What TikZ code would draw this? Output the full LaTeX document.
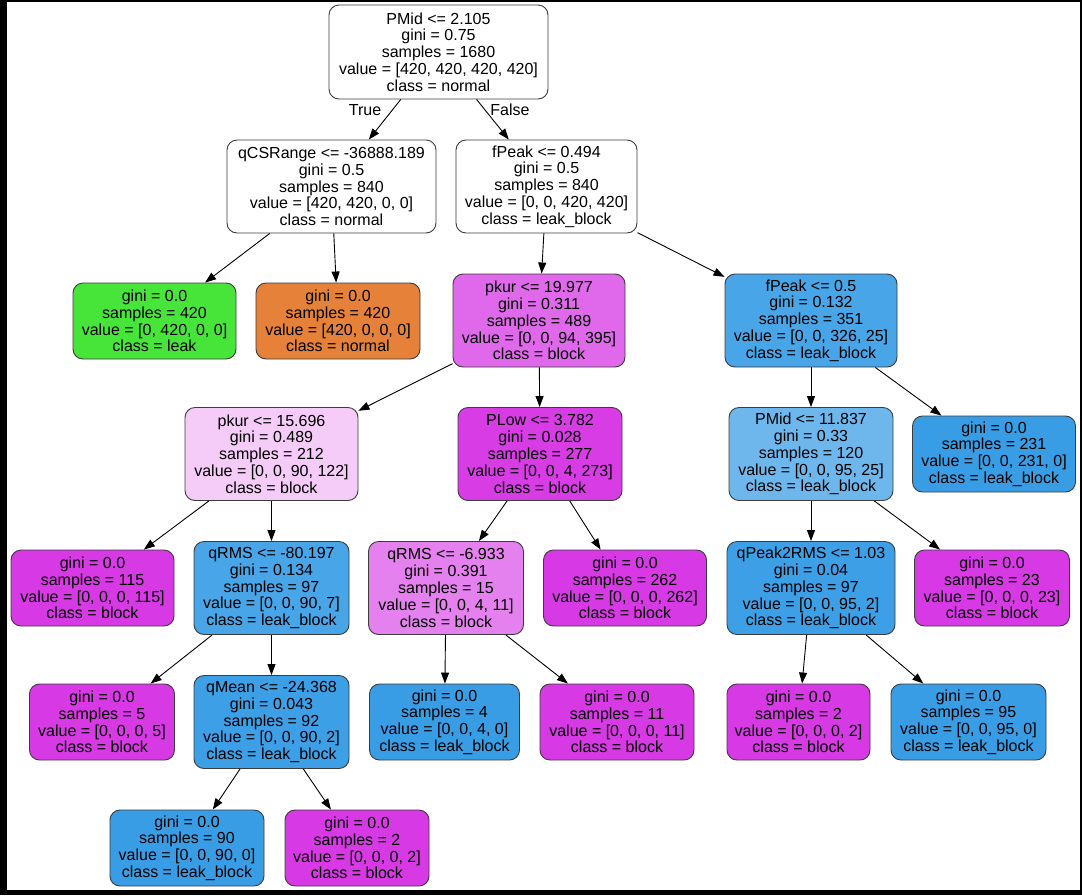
\documentclass[tikz,border=0pt]{standalone}
\usepackage{fontspec}
\setmainfont{Liberation Sans}
\usetikzlibrary{arrows.meta}
\definecolor{cnormal}{RGB}{229,129,57}
\definecolor{cleak}{RGB}{71,229,57}
\definecolor{cleakblock}{RGB}{57,157,229}
\definecolor{cblock}{RGB}{215,57,229}
\definecolor{cfpfive}{RGB}{72,165,231}
\definecolor{cpkurA}{RGB}{224,104,235}
\definecolor{cpkurB}{RGB}{245,203,248}
\definecolor{cplow}{RGB}{216,60,229}
\definecolor{cpmid}{RGB}{109,183,236}
\definecolor{cqrmsA}{RGB}{72,165,231}
\definecolor{cqrmsB}{RGB}{229,129,238}
\definecolor{cqpeak}{RGB}{61,159,230}
\definecolor{cqmean}{RGB}{61,159,230}
\definecolor{cborder}{RGB}{60,60,60}
\begin{document}
\begin{tikzpicture}[x=1pt,y={(0pt,-1pt)},
  box/.style={draw=cborder, line width=0.9pt, rounded corners=10pt, align=center,
    inner sep=0pt, font=\fontsize{16}{16.8}\selectfont, text=black},
  split/.style={box, minimum height=93pt},
  leaf/.style={box, minimum height=76pt},
  conn/.style={-{Triangle[length=11pt,width=8pt]}, line width=0.9pt, black},
  lbl/.style={font=\fontsize{16}{16.8}\selectfont, inner sep=0pt}]
\fill[black] (0,0) rectangle (1082,895);
\fill[white] (7,2) rectangle (1080,890);
\useasboundingbox (0,0) rectangle (1082,895);

\node[split, fill=white, minimum width=219pt, minimum height=94pt] (root) at (438.5,52)
  {PMid <= 2.105\\gini = 0.75\\samples = 1680\\value = [420, 420, 420, 420]\\class = normal};
\node[split, fill=white, minimum width=209pt] (qcs) at (331.5,186.5)
  {qCSRange <= -36888.189\\gini = 0.5\\samples = 840\\value = [420, 420, 0, 0]\\class = normal};
\node[split, fill=white, minimum width=181pt] (fpa) at (546.5,186.5)
  {fPeak <= 0.494\\gini = 0.5\\samples = 840\\value = [0, 0, 420, 420]\\class = leak\_block};
\node[leaf, fill=cleak, minimum width=163pt] (lleak) at (154.5,321)
  {gini = 0.0\\samples = 420\\value = [0, 420, 0, 0]\\class = leak};
\node[leaf, fill=cnormal, minimum width=164pt] (lnormal) at (338,321)
  {gini = 0.0\\samples = 420\\value = [420, 0, 0, 0]\\class = normal};
\node[split, fill=cpkurA, minimum width=172pt] (pka) at (539,320.5)
  {pkur <= 19.977\\gini = 0.311\\samples = 489\\value = [0, 0, 94, 395]\\class = block};
\node[split, fill=cfpfive, minimum width=172pt] (fpb) at (811,320.5)
  {fPeak <= 0.5\\gini = 0.132\\samples = 351\\value = [0, 0, 326, 25]\\class = leak\_block};
\node[split, fill=cpkurB, minimum width=173pt] (pkb) at (271.5,454)
  {pkur <= 15.696\\gini = 0.489\\samples = 212\\value = [0, 0, 90, 122]\\class = block};
\node[split, fill=cplow, minimum width=164pt] (plow) at (540,454)
  {PLow <= 3.782\\gini = 0.028\\samples = 277\\value = [0, 0, 4, 273]\\class = block};
\node[split, fill=cpmid, minimum width=164pt] (pmid) at (811,454)
  {PMid <= 11.837\\gini = 0.33\\samples = 120\\value = [0, 0, 95, 25]\\class = leak\_block};
\node[leaf, fill=cleakblock, minimum width=163pt] (l231) at (994,454)
  {gini = 0.0\\samples = 231\\value = [0, 0, 231, 0]\\class = leak\_block};
\node[leaf, fill=cblock, minimum width=163pt] (l115) at (92.5,588)
  {gini = 0.0\\samples = 115\\value = [0, 0, 0, 115]\\class = block};
\node[split, fill=cqrmsA, minimum width=155pt] (qrmsa) at (271.5,588)
  {qRMS <= -80.197\\gini = 0.134\\samples = 97\\value = [0, 0, 90, 7]\\class = leak\_block};
\node[split, fill=cqrmsB, minimum width=155pt] (qrmsb) at (446,588)
  {qRMS <= -6.933\\gini = 0.391\\samples = 15\\value = [0, 0, 4, 11]\\class = block};
\node[leaf, fill=cblock, minimum width=163pt] (l262) at (625,588)
  {gini = 0.0\\samples = 262\\value = [0, 0, 0, 262]\\class = block};
\node[split, fill=cqpeak, minimum width=168pt] (qpeak) at (811,588)
  {qPeak2RMS <= 1.03\\gini = 0.04\\samples = 97\\value = [0, 0, 95, 2]\\class = leak\_block};
\node[leaf, fill=cblock, minimum width=155pt] (l23) at (992,588)
  {gini = 0.0\\samples = 23\\value = [0, 0, 0, 23]\\class = block};
\node[leaf, fill=cblock, minimum width=145pt] (l5) at (102,722)
  {gini = 0.0\\samples = 5\\value = [0, 0, 0, 5]\\class = block};
\node[split, fill=cqmean, minimum width=155pt] (qmean) at (271.5,722)
  {qMean <= -24.368\\gini = 0.043\\samples = 92\\value = [0, 0, 90, 2]\\class = leak\_block};
\node[leaf, fill=cleakblock, minimum width=150pt] (l4) at (444.5,722)
  {gini = 0.0\\samples = 4\\value = [0, 0, 4, 0]\\class = leak\_block};
\node[leaf, fill=cblock, minimum width=154pt] (l11) at (617,722)
  {gini = 0.0\\samples = 11\\value = [0, 0, 0, 11]\\class = block};
\node[leaf, fill=cblock, minimum width=143pt] (l2a) at (798.5,722)
  {gini = 0.0\\samples = 2\\value = [0, 0, 0, 2]\\class = block};
\node[leaf, fill=cleakblock, minimum width=155pt] (l95) at (968.5,722)
  {gini = 0.0\\samples = 95\\value = [0, 0, 95, 0]\\class = leak\_block};
\node[leaf, fill=cleakblock, minimum width=154pt] (l90) at (187,848)
  {gini = 0.0\\samples = 90\\value = [0, 0, 90, 0]\\class = leak\_block};
\node[leaf, fill=cblock, minimum width=144pt] (l2b) at (357,848)
  {gini = 0.0\\samples = 2\\value = [0, 0, 0, 2]\\class = block};

\node[lbl] (ltrue) at (365,110) {True};
\node[lbl] (lfalse) at (510,110) {False};

\draw[conn] (root) -- (qcs);
\draw[conn] (root) -- (fpa);
\draw[conn] (qcs) -- (lleak);
\draw[conn] (qcs) -- (lnormal);
\draw[conn] (fpa) -- (pka);
\draw[conn] (fpa) -- (fpb);
\draw[conn] (pka) -- (pkb);
\draw[conn] (pka) -- (plow);
\draw[conn] (fpb) -- (pmid);
\draw[conn] (fpb) -- (l231);
\draw[conn] (pkb) -- (l115);
\draw[conn] (pkb) -- (qrmsa);
\draw[conn] (plow) -- (qrmsb);
\draw[conn] (plow) -- (l262);
\draw[conn] (pmid) -- (qpeak);
\draw[conn] (pmid) -- (l23);
\draw[conn] (qrmsa) -- (l5);
\draw[conn] (qrmsa) -- (qmean);
\draw[conn] (qrmsb) -- (l4);
\draw[conn] (qrmsb) -- (l11);
\draw[conn] (qpeak) -- (l2a);
\draw[conn] (qpeak) -- (l95);
\draw[conn] (qmean) -- (l90);
\draw[conn] (qmean) -- (l2b);
\end{tikzpicture}
\end{document}
